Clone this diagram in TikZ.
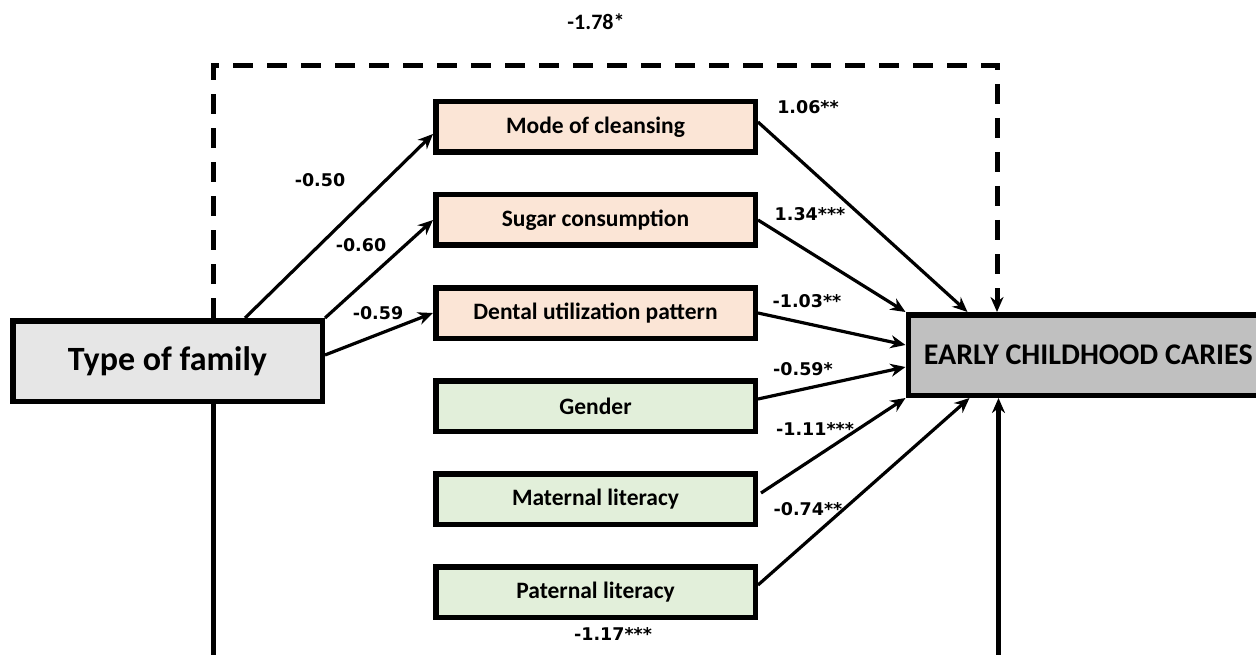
\documentclass[tikz,border=0pt]{standalone}
\usepackage{fontspec}
\setmainfont{Carlito}
\newfontfamily\numfont{DejaVu Sans}
\usetikzlibrary{arrows.meta}
\usetikzlibrary{positioning}

\definecolor{famgray}{HTML}{E6E6E6}
\definecolor{eccgray}{HTML}{C0C0C0}
\definecolor{peach}{HTML}{FBE5D6}
\definecolor{mint}{HTML}{E2EFDA}

\begin{document}
\begin{tikzpicture}[x=1pt, y=-1pt,
      box/.style ={rectangle, draw=black, line width=5.5pt, minimum width=319.5pt, minimum height=50.5pt, font=\fontsize{23.5}{27}\selectfont\bfseries},
      habit/.style ={box, fill=peach},
      parent/.style ={box, fill=mint},
      bigbox/.style ={rectangle, draw=black, line width=5.5pt, minimum height=80.5pt, font=\fontsize{30}{35}\selectfont\bfseries},
      coef/.style ={font=\numfont\fontsize{17.5}{20}\selectfont\bfseries},
      arr/.style ={-{Stealth[length=15pt,width=13pt]}, line width=3.2pt},
      dasharr/.style ={arr, dash pattern=on 20pt off 14pt, line width=5pt},
      node distance=37pt
    ]
    \path[use as bounding box] (0,0) rectangle (1256,655);
    \clip (0,0) rectangle (1256,655);

    \node [bigbox, fill=famgray, minimum width=309.5pt, font=\fontsize{34}{39}\selectfont\bfseries] (tfam) at (167.5,361) {Type of family} ;
    \node [bigbox, fill=eccgray, minimum width=360pt, anchor=west] (ecc) at (905.5,355) {EARLY CHILDHOOD CARIES} ;

    \node [habit] (clean) at (595.5,127) {Mode of cleansing} ;
    \node [habit] (sugar) [below=of clean] {Sugar consumption} ;
    \node [habit] (dental) [below=of sugar] {Dental utilization pattern} ;
    \node [parent] (gender) [below=of dental] {Gender} ;
    \node [parent] (mlit) [below=of gender] {Maternal literacy} ;
    \node [parent] (plit) [below=of mlit] {Paternal literacy} ;

    % type of family -> mediators
    \draw [arr] ([xshift=77.5pt]tfam.north) -- ([yshift=-7pt]clean.west) ;
    \draw [arr] (tfam.north east) -- (sugar.west) ;
    \draw [arr] ([yshift=6pt]tfam.east) -- (dental.west) ;

    % mediators -> caries
    \draw [arr] ([yshift=5pt]clean.east) -- ([xshift=62pt]ecc.north west) ;
    \draw [arr] (sugar.east) -- (ecc.north west) ;
    \draw [arr] (dental.east) -- ([yshift=10pt]ecc.west) ;
    \draw [arr] ([yshift=7pt]gender.east) -- ([yshift=-12pt]ecc.west) ;
    \draw [arr] ([xshift=3pt,yshift=6pt]mlit.east) -- (ecc.south west) ;
    \draw [arr] ([yshift=7pt]plit.east) -- ([xshift=64pt]ecc.south west) ;

    % direct paths
    \coordinate (dtop) at (997,66) ;
    \coordinate (dbot) at (600,700) ;
    \draw [dasharr] ([xshift=45.5pt]tfam.north) |- (dtop) -- (dtop |- ecc.north) ;
    \draw [arr, line width=5pt] ([xshift=45.5pt]tfam.south) |- (dbot) -| ([xshift=93pt]ecc.south west) ;

    \node [font=\fontsize{22}{26}\selectfont\bfseries] (ldir) at (596,22) {-1.78*} ;
    \node [coef] (l1) at (320,180) {-0.50} ;
    \node [coef] (l2) at (361,245) {-0.60} ;
    \node [coef] (l3) at (378,313) {-0.59} ;
    \node [coef] (l4) at (808,107) {1.06**} ;
    \node [coef] (l5) at (810,214) {1.34***} ;
    \node [coef] (l6) at (807,301) {-1.03**} ;
    \node [coef] (l7) at (803,369) {-0.59*} ;
    \node [coef] (l8) at (815,429) {-1.11***} ;
    \node [coef] (l9) at (808,509) {-0.74**} ;
    \node [coef] (l10) at (613,634) {-1.17***} ;
  \end{tikzpicture}
\end{document}
